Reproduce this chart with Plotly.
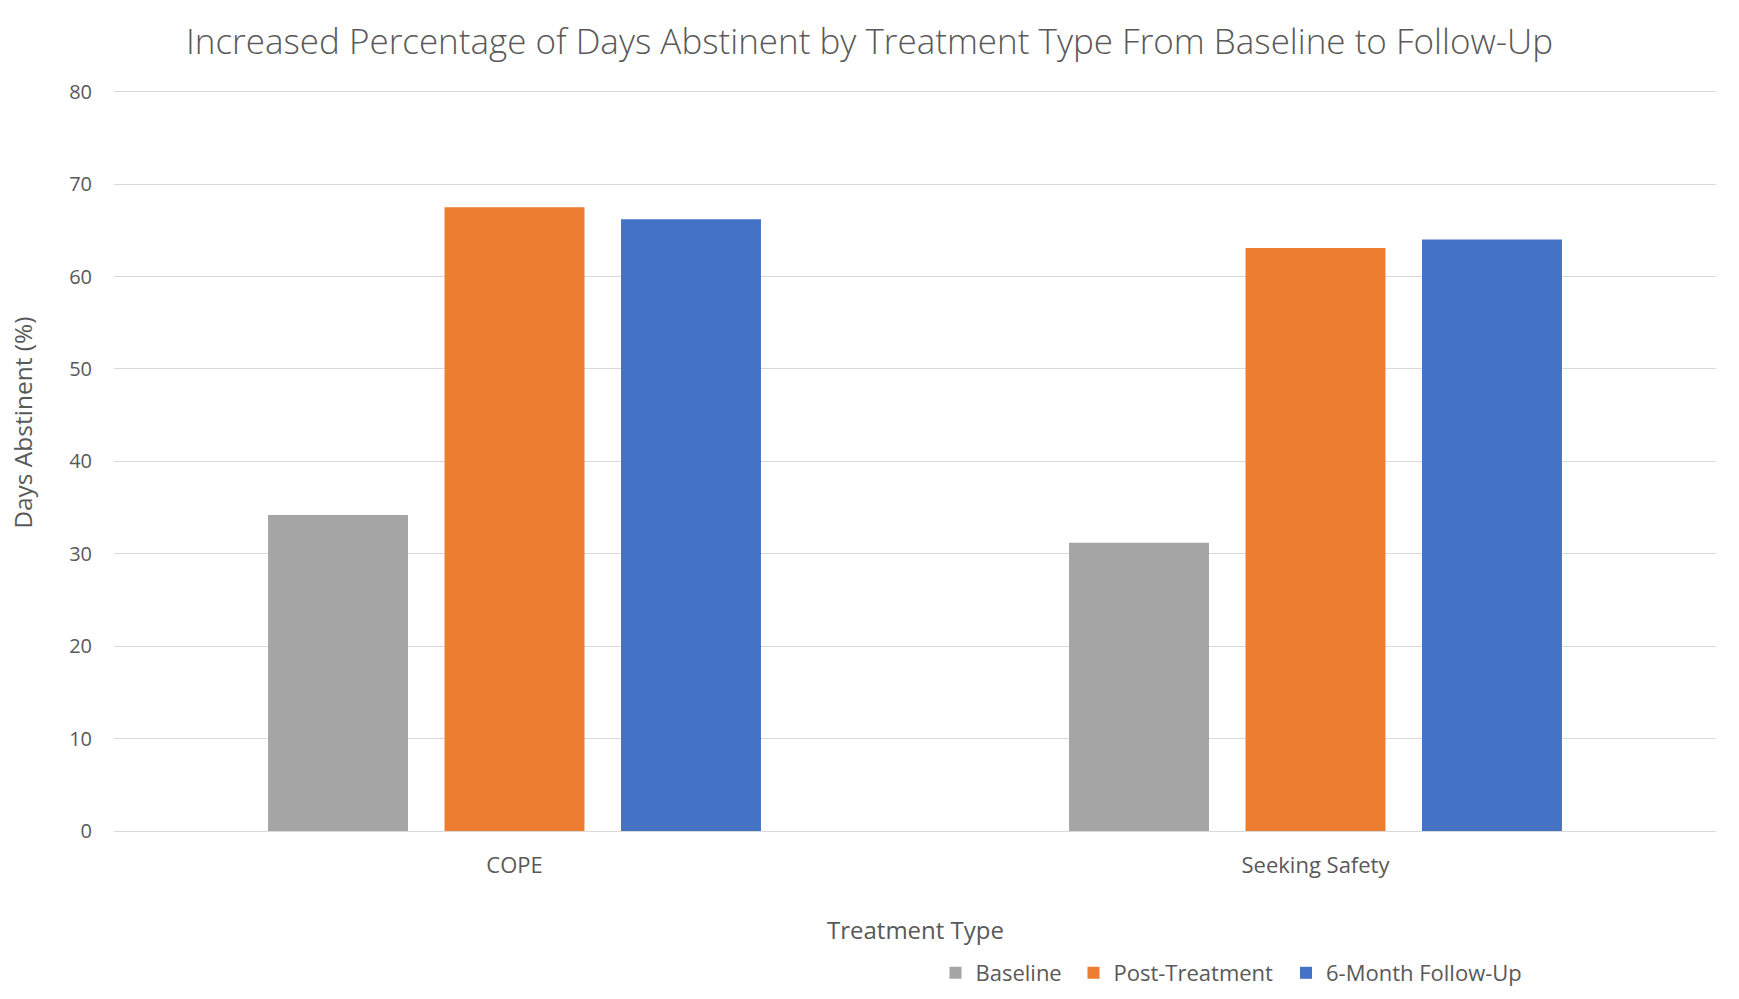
import plotly.graph_objects as go

categories = ["COPE", "Seeking Safety"]
series_names = ["Baseline", "Post-Treatment", "6-Month Follow-Up"]
baseline = [34.2, 31.2]
post_treatment = [67.5, 63.1]
follow_up = [66.2, 64.0]
y_ticks = [0, 10, 20, 30, 40, 50, 60, 70, 80]

colors = ["#a5a5a5", "#ed7d31", "#4472c4"]
FONT = "Open Sans"
TXT = "#595959"

# page body has an 8px margin; work in figure coordinates (page - 8)
OFF = 8
W, H = 1739 - OFF, 999 - OFF
Y_TOP = 80.3
PX_PER_UNIT = (831 - 92) / 80.0
L, R_EDGE = 114 - OFF, 1716 - OFF
B_EDGE = 831 - OFF
T = (92 - OFF) - (Y_TOP - 80) * PX_PER_UNIT
PW, PH = R_EDGE - L, B_EDGE - T

legend_ids = ["legend", "legend2", "legend3"]
legend_left_page = [935.5, 1073.5, 1286.0]

fig = go.Figure()
for name, vals, col, lid in zip(series_names, [baseline, post_treatment, follow_up], colors, legend_ids):
    fig.add_trace(go.Bar(x=categories, y=vals, name=name, legend=lid, showlegend=True,
                         marker=dict(color=col, line=dict(width=0))))

legend_cfg = {}
for lid, lx in zip(legend_ids, legend_left_page):
    legend_cfg[lid] = dict(orientation="h", xref="container", yref="container",
                           x=(lx - OFF) / W, xanchor="left",
                           y=1 - (973 - OFF) / H, yanchor="middle",
                           font=dict(size=22, color=TXT), bgcolor="rgba(0,0,0,0)")

fig.update_layout(
    width=W, height=H, showlegend=True,
    paper_bgcolor="white", plot_bgcolor="white",
    margin=dict(l=L, r=W - R_EDGE, t=T, b=H - B_EDGE),
    barmode="group", bargap=0.339, bargroupgap=0.207,
    font=dict(family=FONT, color=TXT),
    title=dict(text="Increased Percentage of Days Abstinent by Treatment Type From Baseline to Follow-Up",
               x=(869.5 - OFF) / W, xref="container", xanchor="center",
               y=1 - (42 - OFF) / H, yref="container", yanchor="middle",
               font=dict(family=FONT, size=35, color=TXT, weight=300)),
    xaxis=dict(showgrid=False, showline=True, linecolor="#d9d9d9", linewidth=1,
               ticks="", tickfont=dict(size=22, color=TXT), ticklabelstandoff=15),
    yaxis=dict(range=[0, Y_TOP], tickvals=y_ticks, showgrid=True, gridcolor="#d9d9d9", gridwidth=1,
               zeroline=False, showline=False, ticks="",
               tickfont=dict(size=20, color=TXT), ticklabelstandoff=21),
    annotations=[
        dict(text="Treatment Type", xref="paper", yref="paper", x=0.5, y=(B_EDGE - (929 - OFF)) / PH,
             xanchor="center", yanchor="middle", showarrow=False,
             font=dict(size=24, color=TXT, family=FONT)),
        dict(text="Days Abstinent (%)", xref="paper", yref="paper", x=(23 - OFF - L) / PW,
             y=(B_EDGE - (423 - OFF)) / PH, xanchor="center", yanchor="middle", textangle=-90,
             borderpad=0, showarrow=False, font=dict(size=24.5, color=TXT, family=FONT)),
    ],
    **legend_cfg,
)

fig.write_html("out.html")
